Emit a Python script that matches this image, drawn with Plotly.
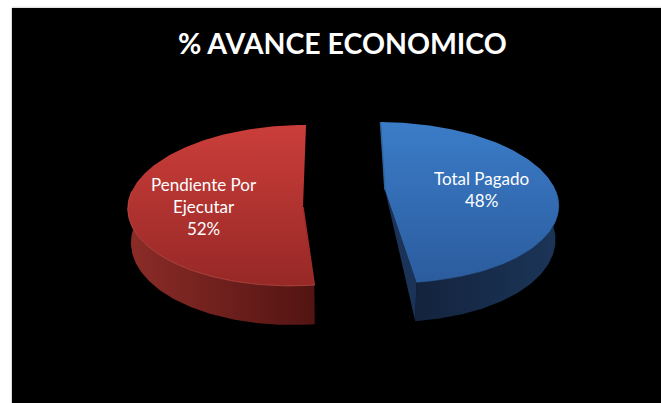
import numpy as np
import plotly.graph_objects as go

title = "% AVANCE ECONOMICO"
categories = ["Total Pagado", "Pendiente Por<br>Ejecutar"]
values = [48, 52]

# --- layout of the projected pie (pixels of the 661x403 page) ---
START_DEG = 0.5
A, K = 78.5, 0.155   # projection of the unit disc
CAMERA_X = 342.0
DEPTH = 33.0
SHRINK = 0.985
slices = [
    dict(cx=385.0, cy=190.0, r=170.5, notch=(385.0, 190.0), label=(481, 189),
         top=[[0, "#2b5c9e"], [1, "#3b7cc8"]],
         side=[[0, "#13233d"], [1, "#1b3558"]], cut="#1a3356", sliver="#2f649f", rim="#2f64a6"),
    dict(cx=299.0, cy=193.0, r=168.0, notch=(303.0, 207.0), label=(204, 206),
         top=[[0, "#962826"], [1, "#cb3e3a"]],
         side=[[0, "#8c2c28"], [1, "#521412"]], cut="#7a201d", sliver="#a02c29", rim="#cf5a55"),
]


def project(s, theta, depth=0.0, shrink=1.0):
    u, v = np.sin(theta), -np.cos(theta)
    w = 1 - K * v
    return (CAMERA_X + shrink * (s["cx"] - CAMERA_X + s["r"] * u) / w,
            s["cy"] + (A * v + depth) / w)


fig = go.Figure()
total = sum(values)
angle = np.radians(START_DEG)
labels = []
for value, cat, s in zip(values, categories, slices):
    sweep = 2 * np.pi * value / total
    theta = np.linspace(angle, angle + sweep, 181)
    angle += sweep
    nx, ny = s["notch"]
    x, y = project(s, theta)

    # front wall: the part of the rim that faces the viewer
    front = theta[np.cos(theta) <= 0.02]
    fx, fy = project(s, front)
    bx, by = project(s, front, DEPTH, SHRINK)
    fig.add_trace(go.Scatter(
        x=np.r_[fx, bx[::-1], fx[0]], y=np.r_[fy, by[::-1], fy[0]],
        mode="lines", line=dict(width=0), fill="toself",
        fillgradient=dict(type="horizontal", colorscale=s["side"]),
        hoverinfo="skip", showlegend=False))

    # cut face of the blue slice, next to the lower radial edge
    if value == values[0]:
        dx, dy = project(s, theta[-1:], DEPTH, SHRINK)
        fig.add_trace(go.Scatter(
            x=[nx, x[-1], dx[0], nx], y=[ny, y[-1], dy[0], ny],
            mode="lines", line=dict(width=0), fill="toself", fillcolor=s["cut"],
            hoverinfo="skip", showlegend=False))

    # top face
    fig.add_trace(go.Scatter(
        x=np.r_[x, nx, x[0]], y=np.r_[y, ny, y[0]],
        mode="lines", line=dict(width=0), fill="toself",
        fillgradient=dict(type="vertical", colorscale=s["top"]),
        hoverinfo="skip", showlegend=False))

    # thin edge along the upper radial cut, highlight on the front rim
    fig.add_trace(go.Scatter(
        x=[x[0], nx], y=[y[0], ny], mode="lines",
        line=dict(width=1.5, color=s["sliver"]),
        hoverinfo="skip", showlegend=False))
    fig.add_trace(go.Scatter(
        x=fx, y=fy, mode="lines", line=dict(width=1, color=s["rim"]),
        opacity=0.6, hoverinfo="skip", showlegend=False))
    labels.append(dict(x=s["label"][0], y=s["label"][1], text=f"{cat}<br>{value}%",
                       showarrow=False, xanchor="center", yanchor="middle",
                       font=dict(family="Lato", size=17, color="white")))

labels.append(dict(x=342, y=43, text=f"<b>{title}</b>", showarrow=False,
                   xanchor="center", yanchor="middle",
                   font=dict(family="Lato", size=28.5, color="white")))

fig.update_layout(
    width=661, height=403, autosize=False,
    margin=dict(l=12, r=0, t=8, b=0),
    paper_bgcolor="white", plot_bgcolor="black",
    xaxis=dict(range=[12, 661], visible=False, fixedrange=True),
    yaxis=dict(range=[403, 8], visible=False, fixedrange=True),
    annotations=labels,
    shapes=[
        dict(type="line", xref="paper", yref="paper", x0=-0.001, x1=-0.001, y0=0, y1=1,
             line=dict(color="#d6d6d6", width=1), layer="above"),
        dict(type="line", xref="paper", yref="paper", x0=0, x1=1, y0=1.002, y1=1.002,
             line=dict(color="#d6d6d6", width=1), layer="above"),
    ],
    showlegend=False,
)
fig.write_html("out.html", config=dict(displayModeBar=False),
               default_width=661, default_height=403,
               post_script="document.body.style.margin='0';document.body.style.overflow='hidden';")
